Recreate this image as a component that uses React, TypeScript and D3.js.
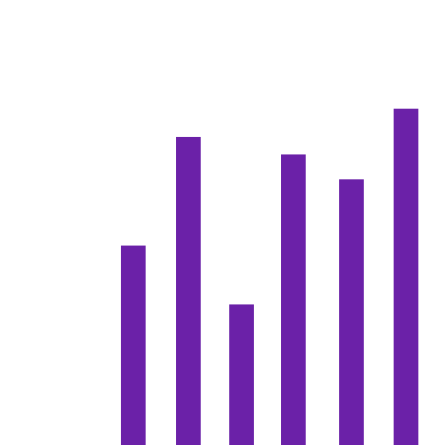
import React from 'react';
import * as d3 from 'd3';

// Positions along the x axis (uneven spacing)
const xValues = [0, 20.2, 39.7, 58.7, 80, 100];
// Bar heights
const values = [59.3, 91.6, 41.8, 86.4, 79.0, 100];

const WIDTH = 444;
const HEIGHT = 445;

export default function App() {
  const x = d3.scaleLinear().domain([0, 100]).range([133.3, 406]);
  const y = d3.scaleLinear().domain([0, 100]).range([HEIGHT, 108.7]);
  const barWidth = 24.7;

  return (
    <svg
      width={WIDTH}
      height={HEIGHT}
      style={{ position: 'absolute', left: 0, top: 0, background: '#fff' }}
    >
      <g>
        {values.map((v, i) => (
          <rect
            key={i}
            x={x(xValues[i]) - barWidth / 2}
            y={y(v)}
            width={barWidth}
            height={y(0) - y(v)}
            fill="#6b21a8"
          />
        ))}
      </g>
    </svg>
  );
}
